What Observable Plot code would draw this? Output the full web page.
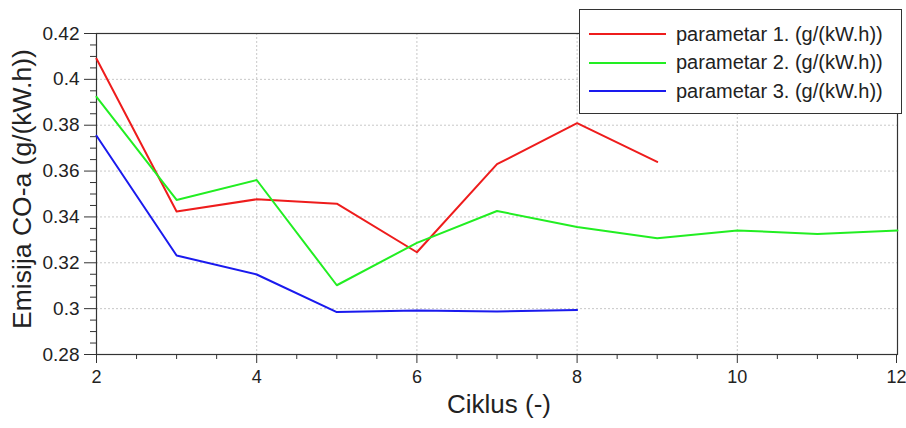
<!DOCTYPE html>
<html>
<head>
<meta charset="utf-8">
<script src="https://cdn.jsdelivr.net/npm/d3@7"></script>
<script src="https://cdn.jsdelivr.net/npm/@observablehq/plot@0.6"></script>
<style>
  body { margin: 0; background: #fff; font-family: "Liberation Sans", Arial, sans-serif; }
  #wrap { position: relative; width: 906px; height: 428px; }
  #legend { position: absolute; left: 579px; top: 9px; width: 323px; height: 105px;
    border: 1px solid #333; background: #fff; box-sizing: border-box; }
  .row { position: absolute; left: 0; height: 24px; display: flex; align-items: center; }
  .sw { width: 77px; height: 2px; margin-left: 9px; margin-right: 10px; }
  .lab { font-size: 20px; color: #222; white-space: nowrap; }
</style>
</head>
<body>
<div id="wrap"><div id="legend"></div></div>
<script>
const cycles1 = [2, 3, 4, 5, 6, 7, 8, 9];
const param1 = [0.409, 0.3424, 0.3477, 0.3458, 0.3246, 0.3630, 0.3809, 0.3640];
const cycles2 = [2, 3, 4, 5, 6, 7, 8, 9, 10, 11, 12];
const param2 = [0.3924, 0.3474, 0.3561, 0.3102, 0.3287, 0.3426, 0.3356, 0.3307, 0.3341, 0.3326, 0.3341];
const cycles3 = [2, 3, 4, 5, 6, 7, 8];
const param3 = [0.3754, 0.3232, 0.3149, 0.2985, 0.2992, 0.2988, 0.2994];
const seriesNames = ["parametar 1. (g/(kW.h))", "parametar 2. (g/(kW.h))", "parametar 3. (g/(kW.h))"];
const seriesColors = ["#ee1c1c", "#22ee22", "#1a1aee"];
const xTicks = [2, 4, 6, 8, 10, 12];
const yTicks = [0.28, 0.30, 0.32, 0.34, 0.36, 0.38, 0.40, 0.42];
const yTickLabels = ["0.28", "0.3", "0.32", "0.34", "0.36", "0.38", "0.4", "0.42"];
const xLabel = "Ciklus (-)";
const yLabel = "Emisija CO-a (g/(kW.h))";

const series = [
  cycles1.map((c, i) => ({x: c, y: param1[i], s: seriesNames[0]})),
  cycles2.map((c, i) => ({x: c, y: param2[i], s: seriesNames[1]})),
  cycles3.map((c, i) => ({x: c, y: param3[i], s: seriesNames[2]}))
];
const xMinor = d3.range(2, 12.01, 0.5).filter(v => !xTicks.includes(v));
const yMinor = d3.range(0, 29).map(i => +(0.28 + i * 0.005).toFixed(3)).filter(v => !yTicks.some(t => Math.abs(t - v) < 1e-6));
const gridStyle = {stroke: "#c8c8c8", strokeDasharray: "2,2", strokeOpacity: 1, strokeWidth: 1};
const xTickOpts = {tickSize: 9, tickPadding: 7, fontSize: 18, stroke: "#333", label: null, tickFormat: d => String(d)};

const chart = Plot.plot({
  width: 906, height: 428,
  marginLeft: 96, marginRight: 9, marginTop: 33, marginBottom: 74,
  style: {fontFamily: "Liberation Sans, Arial, sans-serif", color: "#222", background: "white"},
  x: {domain: [2, 12]},
  y: {domain: [0.28, 0.42]},
  marks: [
    Plot.gridX([4, 6, 8, 10], gridStyle),
    Plot.gridY(yTicks.slice(1, -1), gridStyle),
    Plot.frame({stroke: "#333", strokeWidth: 1.2}),
    Plot.axisX(xMinor, {tickSize: 5, text: null, stroke: "#333", label: null}),
    Plot.axisX(xTicks.slice(0, -1), xTickOpts),
    Plot.axisX(xTicks.slice(-1), {...xTickOpts, dx: -1, textAnchor: "middle"}),
    Plot.axisY(yMinor, {tickSize: 6, text: null, stroke: "#333", label: null}),
    Plot.axisY(yTicks, {tickSize: 12, tickPadding: 5, fontSize: 19, stroke: "#333", label: null,
      tickFormat: d => yTickLabels[yTicks.findIndex(t => Math.abs(t - d) < 1e-9)]}),
    ...series.map((data, i) => Plot.line(data, {x: "x", y: "y", stroke: seriesColors[i], strokeWidth: 2})),
    Plot.text([xLabel], {frameAnchor: "bottom", dy: 58, dx: 2, fontSize: 26, fill: "#222", textAnchor: "middle"}),
    Plot.text([yLabel], {frameAnchor: "left", dx: -74, dy: -5, rotate: -90, fontSize: 26.5, fill: "#222", textAnchor: "middle"})
  ]
});
document.getElementById("wrap").prepend(chart);

const legend = document.getElementById("legend");
seriesNames.forEach((name, i) => {
  const row = document.createElement("div");
  row.className = "row";
  row.style.top = (12 + i * 28.5) + "px";
  const sw = document.createElement("span");
  sw.className = "sw";
  sw.style.background = seriesColors[i];
  const lab = document.createElement("span");
  lab.className = "lab";
  lab.textContent = name;
  row.appendChild(sw);
  row.appendChild(lab);
  legend.appendChild(row);
});
</script>
</body>
</html>
